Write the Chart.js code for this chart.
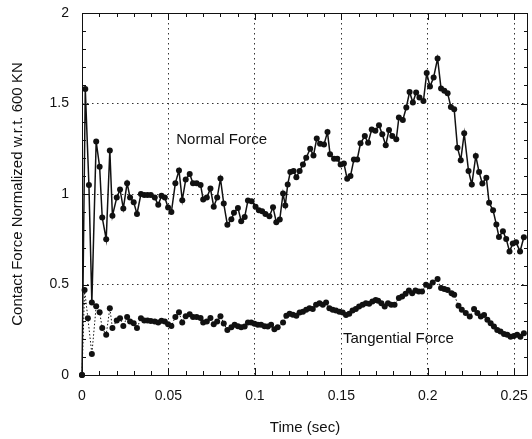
<!DOCTYPE html>
<html lang="en">
<head>
  <meta charset="UTF-8" />
  <title>Contact Force vs Time</title>
  <script src="https://cdn.jsdelivr.net/npm/chart.js"></script>
  <style>
    body { margin: 0; background: #fff; }
  </style>
</head>
<body>
  <canvas id="forceChart" width="532" height="439"></canvas>

  <script>
    // Normal force samples (time in sec, force normalized w.r.t. 600 KN)
    const normalTime = [
      0, 0.0019, 0.0040, 0.0057, 0.0082, 0.0102, 0.0117, 0.0140, 0.0161, 0.0176,
      0.0201, 0.0220, 0.0239, 0.0261, 0.0278, 0.0299, 0.0318, 0.0341, 0.0360, 0.0379,
      0.0398, 0.0421, 0.0441, 0.0460, 0.0479, 0.0498, 0.0517, 0.0540, 0.0561, 0.0580,
      0.0600, 0.0623, 0.0642, 0.0663, 0.0686, 0.0701, 0.0722, 0.0743, 0.0762, 0.0782,
      0.0801, 0.0820, 0.0841, 0.0864, 0.0879, 0.0902, 0.0921, 0.0941, 0.0960, 0.0981,
      0.1004, 0.1023, 0.1042, 0.1061, 0.1084, 0.1105, 0.1124, 0.1144, 0.1163, 0.1176,
      0.1190, 0.1205, 0.1224, 0.1240, 0.1259, 0.1278, 0.1297, 0.1320, 0.1339, 0.1358,
      0.1377, 0.1400, 0.1420, 0.1435, 0.1458, 0.1477, 0.1496, 0.1515, 0.1534, 0.1553,
      0.1573, 0.1592, 0.1611, 0.1636, 0.1655, 0.1676, 0.1697, 0.1718, 0.1737, 0.1757,
      0.1776, 0.1795, 0.1818, 0.1833, 0.1856, 0.1876, 0.1895, 0.1914, 0.1933, 0.1952,
      0.1975, 0.1994, 0.2013, 0.2034, 0.2057, 0.2077, 0.2096, 0.2115, 0.2134, 0.2153,
      0.2172, 0.2191, 0.2211, 0.2236, 0.2255, 0.2278, 0.2297, 0.2316, 0.2339, 0.2355,
      0.2378, 0.2397, 0.2412, 0.2435, 0.2454, 0.2473, 0.2492, 0.2511, 0.2534, 0.2556
    ];
    const normalForce = [
      0, 1.58, 1.05, 0.40, 1.29, 1.15, 0.87, 0.75, 1.24, 0.88,
      0.98, 1.025, 0.92, 1.06, 0.98, 0.955, 0.89, 1.00, 0.995, 0.995,
      0.995, 0.98, 0.94, 0.99, 0.98, 0.925, 0.90, 1.06, 1.13, 0.965,
      1.08, 1.11, 1.06, 1.06, 1.05, 0.97, 0.98, 1.03, 0.93, 0.98,
      1.085, 0.947, 0.83, 0.86, 0.896, 0.923, 0.85, 0.873, 0.964, 0.96,
      0.93, 0.91, 0.905, 0.89, 0.877, 0.927, 0.844, 0.859, 1.003, 0.936,
      1.053, 1.121, 1.127, 1.093, 1.127, 1.163, 1.20, 1.25, 1.213, 1.306,
      1.278, 1.274, 1.342, 1.219, 1.195, 1.195, 1.163, 1.169, 1.084, 1.099,
      1.191, 1.191, 1.28, 1.32, 1.283, 1.357, 1.35, 1.38, 1.33, 1.269,
      1.354, 1.32, 1.302, 1.422, 1.409, 1.478, 1.564, 1.505, 1.561, 1.533,
      1.514, 1.668, 1.594, 1.644, 1.749, 1.583, 1.57, 1.557, 1.481, 1.468,
      1.256, 1.187, 1.335, 1.127, 1.053, 1.21, 1.121, 1.058, 1.09, 0.951,
      0.91, 0.831, 0.763, 0.794, 0.752, 0.683, 0.726, 0.733, 0.683, 0.761
    ];

    // Tangential force samples
    const tangTime = [
      0, 0.0015, 0.0034, 0.0057, 0.0082, 0.0102, 0.0117, 0.0140, 0.0161, 0.0176,
      0.0201, 0.0220, 0.0239, 0.0261, 0.0278, 0.0299, 0.0318, 0.0341, 0.0360, 0.0379,
      0.0398, 0.0421, 0.0441, 0.0460, 0.0479, 0.0498, 0.0517, 0.0540, 0.0561, 0.0580,
      0.0600, 0.0623, 0.0642, 0.0663, 0.0686, 0.0701, 0.0722, 0.0743, 0.0762, 0.0782,
      0.0801, 0.0820, 0.0841, 0.0864, 0.0883, 0.0902, 0.0921, 0.0941, 0.0960, 0.0979,
      0.0998, 0.1017, 0.1036, 0.1056, 0.1075, 0.1094, 0.1113, 0.1132, 0.1163, 0.1182,
      0.1201, 0.1220, 0.1240, 0.1259, 0.1278, 0.1297, 0.1316, 0.1335, 0.1354, 0.1374,
      0.1393, 0.1412, 0.1431, 0.1450, 0.1469, 0.1489, 0.1508, 0.1527, 0.1546, 0.1565,
      0.1584, 0.1603, 0.1623, 0.1642, 0.1661, 0.1680, 0.1699, 0.1713, 0.1732, 0.1751,
      0.1770, 0.1789, 0.1808, 0.1833, 0.1852, 0.1872, 0.1891, 0.1910, 0.1929, 0.1948,
      0.1967, 0.1990, 0.2010, 0.2029, 0.2057, 0.2077, 0.2096, 0.2115, 0.2138, 0.2153,
      0.2178, 0.2197, 0.2220, 0.2243, 0.2268, 0.2287, 0.2307, 0.2326, 0.2345, 0.2364,
      0.2383, 0.2402, 0.2421, 0.2441, 0.2460, 0.2479, 0.2498, 0.2517, 0.2536, 0.2556
    ];
    const tangForce = [
      0, 0.47, 0.314, 0.116, 0.38, 0.347, 0.259, 0.222, 0.369, 0.259,
      0.301, 0.314, 0.271, 0.32, 0.295, 0.286, 0.259, 0.314, 0.301, 0.301,
      0.298, 0.295, 0.29, 0.30, 0.295, 0.28, 0.271, 0.32, 0.347, 0.29,
      0.325, 0.335, 0.32, 0.32, 0.315, 0.29, 0.295, 0.315, 0.28, 0.295,
      0.325, 0.285, 0.249, 0.264, 0.277, 0.27, 0.264, 0.268, 0.29, 0.29,
      0.283, 0.277, 0.277, 0.27, 0.268, 0.277, 0.253, 0.264, 0.29, 0.327,
      0.338, 0.333, 0.327, 0.345, 0.35, 0.36, 0.369, 0.364, 0.388, 0.397,
      0.388, 0.40, 0.369, 0.36, 0.357, 0.35, 0.345, 0.332, 0.338, 0.357,
      0.364, 0.378, 0.388, 0.397, 0.393, 0.406, 0.415, 0.41, 0.397, 0.378,
      0.397, 0.388, 0.388, 0.425, 0.434, 0.449, 0.467, 0.452, 0.467, 0.462,
      0.462, 0.499, 0.49, 0.511, 0.53, 0.48, 0.475, 0.47, 0.452, 0.443,
      0.382, 0.36, 0.342, 0.323, 0.364, 0.342, 0.323, 0.332, 0.305, 0.286,
      0.268, 0.249, 0.24, 0.227, 0.222, 0.212, 0.215, 0.222, 0.212, 0.23
    ];

    const xTicks = [0, 0.05, 0.1, 0.15, 0.2, 0.25];
    const yTicks = [0, 0.5, 1, 1.5, 2];

    // Text labels placed at data coordinates
    const annotations = [
      { text: 'Normal Force', x: 0.0545, y: 1.30 },
      { text: 'Tangential Force', x: 0.151, y: 0.20 }
    ];

    const FONT = '"Liberation Sans", Arial, Helvetica, sans-serif';
    const INK = '#111';

    const toPoints = (xs, ys) => xs.map((x, i) => ({ x: x, y: ys[i] }));

    // Frame, inward minor ticks and the in-plot text labels
    const framePlugin = {
      id: 'frame',
      afterDraw(chart) {
        const { ctx, chartArea: a, scales: { x, y } } = chart;
        ctx.save();
        ctx.strokeStyle = INK;
        ctx.lineWidth = 1;
        ctx.strokeRect(a.left + 0.5, a.top + 0.5, a.right - a.left - 1, a.bottom - a.top);

        ctx.beginPath();
        for (let i = 0; i <= 25; i++) {
          const px = Math.round(x.getPixelForValue(i * 0.01)) + 0.5;
          const len = i % 5 === 0 ? 7 : 4;
          ctx.moveTo(px, a.top); ctx.lineTo(px, a.top + len);
          ctx.moveTo(px, a.bottom); ctx.lineTo(px, a.bottom - len);
        }
        for (let i = 0; i <= 20; i++) {
          const py = Math.round(y.getPixelForValue(i * 0.1)) + 0.5;
          const len = i % 5 === 0 ? 7 : 4;
          ctx.moveTo(a.left, py); ctx.lineTo(a.left + len, py);
          ctx.moveTo(a.right, py); ctx.lineTo(a.right - len, py);
        }
        ctx.stroke();

        ctx.fillStyle = INK;
        ctx.font = '15px ' + FONT;
        ctx.textBaseline = 'middle';
        ctx.textAlign = 'left';
        annotations.forEach(a2 => {
          ctx.fillText(a2.text, x.getPixelForValue(a2.x), y.getPixelForValue(a2.y));
        });
        ctx.restore();
      }
    };

    const ctx = document.getElementById('forceChart').getContext('2d');
    const forceChart = new Chart(ctx, {
      type: 'line',
      data: {
        datasets: [
          {
            label: 'Normal Force',
            data: toPoints(normalTime, normalForce),
            borderColor: INK,
            backgroundColor: INK,
            borderWidth: 1.5,
            pointRadius: 3,
            pointBorderWidth: 0,
            tension: 0,
            clip: false
          },
          {
            label: 'Tangential Force',
            data: toPoints(tangTime, tangForce),
            borderColor: INK,
            backgroundColor: INK,
            borderWidth: 1,
            borderDash: [1.5, 2],
            pointRadius: 3,
            pointBorderWidth: 0,
            tension: 0,
            clip: false
          }
        ]
      },
      options: {
        responsive: false,
        animation: false,
        layout: { padding: { top: 13, right: 1, left: 0, bottom: 0 } },
        plugins: {
          legend: { display: false },
          tooltip: { enabled: false }
        },
        scales: {
          x: {
            type: 'linear',
            min: 0,
            max: 0.258,
            afterFit: scale => {
              scale.height = 64;
              scale.paddingLeft = 0;
              scale.paddingRight = 0;
            },
            afterBuildTicks: scale => { scale.ticks = xTicks.map(v => ({ value: v })); },
            ticks: {
              color: INK,
              padding: 13,
              maxRotation: 0,
              font: { family: FONT, size: 14 },
              callback: v => String(v)
            },
            grid: { color: '#333', lineWidth: 1, drawTicks: false },
            border: { display: false, dash: [1.5, 3.5] },
            title: {
              display: true,
              text: 'Time (sec)',
              color: INK,
              font: { family: FONT, size: 15 },
              padding: { top: 2, bottom: 2 }
            }
          },
          y: {
            min: 0,
            max: 2,
            afterFit: scale => {
              scale.width = 82;
              scale.paddingTop = 0;
              scale.paddingBottom = 0;
            },
            afterBuildTicks: scale => { scale.ticks = yTicks.map(v => ({ value: v })); },
            ticks: {
              color: INK,
              padding: 13,
              font: { family: FONT, size: 14 },
              callback: v => String(v)
            },
            grid: { color: '#333', lineWidth: 1, drawTicks: false },
            border: { display: false, dash: [1.5, 3.5] },
            title: {
              display: true,
              text: 'Contact Force Normalized w.r.t. 600 KN',
              color: INK,
              font: { family: FONT, size: 15 },
              padding: { top: 9, bottom: 9 }
            }
          }
        }
      },
      plugins: [framePlugin]
    });
  </script>
</body>
</html>
